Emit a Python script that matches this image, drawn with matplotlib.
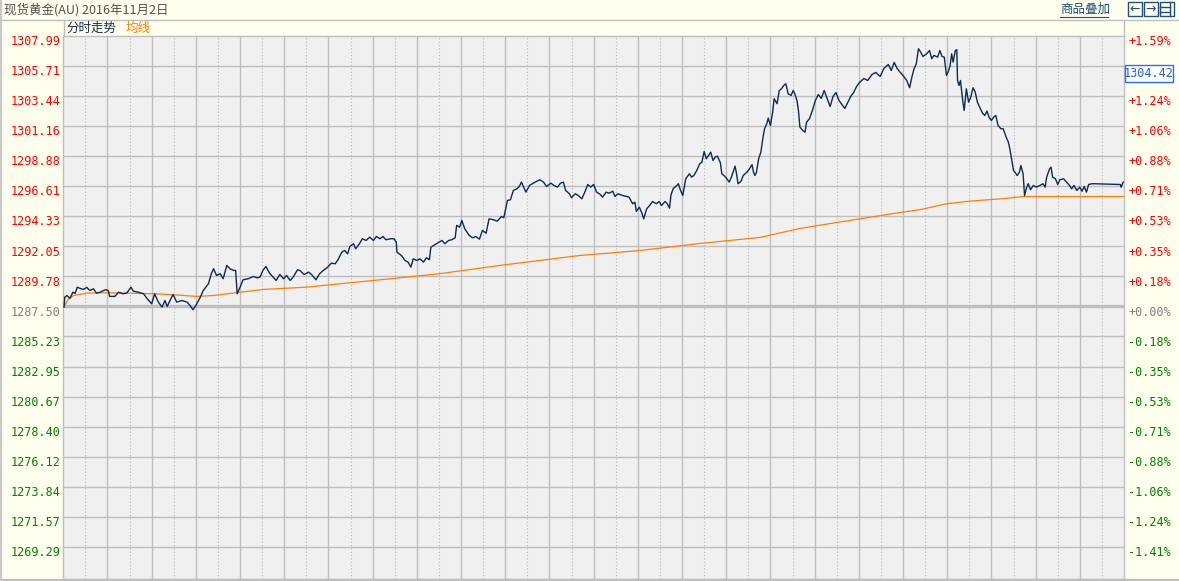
import matplotlib.pyplot as plt
from matplotlib.lines import Line2D
from matplotlib.patches import Rectangle
from matplotlib.transforms import ScaledTranslation

W, H = 1179, 581
dpi = 100

# minutes since session open (24h session) and price
minutes = [
    1, 2, 5, 9, 13, 16, 19, 23, 27, 32, 36, 41, 45, 50, 57, 61, 63, 70, 75, 81,
    86, 92, 95, 102, 109, 114, 120, 124, 129, 134, 138, 141, 145, 149, 154, 161, 168, 172, 176, 180,
    186, 190, 197, 201, 204, 208, 213, 217, 222, 226, 231, 234, 236, 240, 244, 251, 258, 263,
    267, 271, 275, 280, 285, 289, 294, 299, 303, 308, 312, 318, 321, 327, 333, 337, 343, 348, 353, 358,
    364, 369, 373, 378, 382, 386, 389, 394, 397, 402, 406, 411, 416, 421, 425, 430, 434, 438, 444, 449,
    452, 453, 459, 464, 468, 472, 475, 480, 484, 489, 493, 497, 499, 505, 510,
    514, 518, 523, 527, 532, 534, 538, 541, 545, 551, 556, 560, 565, 569, 574, 578, 584, 589, 595, 598,
    603, 607, 611, 616, 619, 622, 625, 628, 633, 638, 643, 647, 652, 656, 662, 666, 671, 675, 679, 682,
    687, 690, 695, 699, 704, 708, 712, 716, 720, 724, 729, 732, 737, 741, 746, 749, 753, 759, 765, 768,
    773, 776, 778, 782, 785, 788, 792, 796, 800, 805, 809, 812, 817, 820, 823, 825, 828, 833, 835, 838,
    841, 843, 845, 850, 853, 856, 860, 864, 867, 870, 873, 876, 879, 882, 885, 888, 892, 894, 897, 901,
    904, 907, 912, 914, 916, 920, 923, 928, 931, 935, 937, 939, 941, 944, 947, 950, 952, 955, 957, 960,
    963, 965, 969, 972, 975, 978, 981, 984, 988, 991, 993, 996, 998, 1000, 1004, 1007, 1009, 1013,
    1017, 1021, 1025, 1029, 1033, 1037, 1041, 1045, 1049, 1053, 1057, 1061, 1065, 1069, 1073, 1077,
    1081, 1087, 1092, 1098, 1103, 1109, 1114, 1120, 1124, 1128, 1132,
    1136, 1140, 1145, 1149, 1152, 1155, 1158, 1161, 1164, 1167, 1172, 1176, 1179, 1182, 1187, 1190,
    1193, 1196, 1199, 1202, 1204, 1206, 1208, 1211, 1213, 1214, 1216, 1218, 1221, 1223, 1226, 1229,
    1232, 1235, 1238, 1241, 1244, 1248, 1251, 1254, 1257, 1260, 1263, 1266, 1269, 1273, 1276, 1280,
    1283, 1285, 1288, 1290, 1292, 1295, 1298, 1300, 1303, 1305, 1308, 1310, 1313, 1317, 1321, 1326,
    1330, 1333, 1335, 1339, 1341, 1343, 1347, 1350, 1353, 1358, 1362, 1366, 1369, 1372, 1376, 1380,
    1383, 1386, 1389, 1392, 1397, 1435, 1436, 1439,
]
prices = [
    1287.45, 1288.20, 1288.33, 1288.11, 1288.58, 1288.48, 1288.96, 1288.86, 1288.79, 1288.94,
    1288.71, 1288.84, 1288.51, 1288.58, 1288.77, 1288.71, 1288.26, 1288.26, 1288.58, 1288.46,
    1288.51, 1288.96, 1288.66, 1288.58, 1288.46, 1288.08, 1287.70, 1288.46, 1287.83, 1287.45,
    1287.95, 1287.50, 1287.95, 1288.41, 1287.83, 1287.95, 1287.83, 1287.58, 1287.25, 1287.58,
    1288.20, 1288.71, 1289.22, 1289.98, 1290.36, 1289.85, 1289.98, 1289.60, 1290.61, 1290.36,
    1290.23, 1290.23, 1288.46, 1288.96, 1289.52, 1289.60, 1289.77, 1289.67,
    1289.72, 1290.23, 1290.53, 1290.02, 1289.72, 1289.47, 1289.92, 1289.60, 1289.85, 1289.47,
    1289.72, 1290.28, 1290.23, 1289.92, 1290.10, 1289.92, 1289.52, 1289.98, 1290.23, 1290.43,
    1290.78, 1290.73, 1291.04, 1291.61, 1291.74, 1291.49, 1292.05, 1292.25, 1291.87, 1292.25,
    1292.63, 1292.50, 1292.75, 1292.50, 1292.80, 1292.63, 1292.80, 1292.55, 1292.63, 1292.63,
    1292.37, 1291.61, 1291.36, 1290.98, 1290.86, 1290.48, 1291.11, 1290.98, 1291.11, 1290.86,
    1291.19, 1291.04, 1291.99, 1292.20, 1292.37,
    1292.50, 1292.25, 1292.50, 1292.55, 1292.70, 1293.64, 1293.51, 1294.02, 1293.39, 1292.88,
    1292.70, 1292.80, 1292.60, 1293.26, 1293.05, 1294.14, 1294.07, 1293.96, 1294.32, 1294.22,
    1295.53, 1295.58, 1296.29, 1296.42, 1296.59, 1296.92, 1296.54, 1296.16, 1296.67, 1296.84,
    1296.99, 1297.10, 1296.92, 1296.59, 1296.84, 1296.67, 1296.54, 1296.84, 1296.92, 1296.29,
    1296.04, 1295.74, 1296.04, 1295.91, 1295.66, 1296.16, 1296.74, 1296.54, 1296.74, 1296.16,
    1295.99, 1295.78, 1296.16, 1296.08, 1296.23, 1295.83, 1296.04, 1295.91, 1295.83, 1295.78,
    1295.28, 1295.40, 1294.70, 1295.02, 1294.64, 1294.14, 1294.90, 1295.15, 1295.45, 1295.28,
    1295.45, 1295.15, 1295.45, 1295.28, 1294.95, 1295.96, 1296.42, 1296.67, 1296.80, 1296.29,
    1295.91, 1296.54, 1297.17, 1297.55, 1297.30, 1297.42, 1297.80, 1298.31, 1298.43, 1299.24,
    1298.69, 1298.94, 1299.19, 1298.56, 1298.81, 1298.89, 1298.39, 1297.55, 1297.42, 1297.17,
    1296.92, 1297.30, 1298.13, 1297.55, 1296.80, 1296.97, 1297.42, 1297.67, 1297.88, 1298.24,
    1297.67, 1297.42, 1297.67, 1298.69, 1299.19, 1300.33, 1300.96, 1301.34, 1301.77, 1301.21,
    1302.22, 1303.24, 1302.86, 1303.86, 1303.99, 1304.24, 1304.37, 1303.61, 1303.49, 1303.86,
    1303.61, 1303.11, 1302.35, 1301.08, 1300.83, 1300.70, 1301.46, 1301.72,
    1302.35, 1303.11, 1303.56, 1303.26, 1303.86, 1303.26, 1302.65, 1303.41, 1303.71, 1303.11,
    1302.80, 1302.50, 1302.95, 1303.41, 1303.71, 1304.17, 1304.47, 1304.77, 1304.62, 1305.08,
    1305.23, 1304.92, 1305.53, 1305.83, 1305.38, 1305.99, 1305.53,
    1305.25, 1305.00, 1304.62, 1304.07, 1304.87, 1305.51, 1305.89, 1307.02, 1306.77, 1306.44,
    1306.64, 1306.89, 1306.27, 1306.52, 1306.39, 1306.89, 1306.44, 1306.39, 1305.00, 1305.38,
    1305.76, 1306.64, 1306.01, 1306.89, 1306.95, 1304.62, 1304.24, 1304.62, 1303.11, 1302.35,
    1303.99, 1302.98, 1303.36, 1304.07, 1303.74, 1302.98, 1302.60, 1302.14, 1301.97, 1302.30,
    1301.80, 1301.59, 1301.84, 1301.97, 1301.21, 1300.96, 1300.96, 1300.33, 1299.95, 1299.45,
    1298.43, 1297.80, 1297.67, 1297.42, 1297.67, 1298.18, 1297.55, 1295.91, 1296.54, 1296.80,
    1296.34, 1296.67, 1296.54, 1296.67, 1296.80, 1296.54, 1297.30, 1297.93, 1298.05, 1297.30,
    1297.17, 1296.74, 1297.10, 1297.17, 1296.92, 1296.67, 1296.42, 1296.67, 1296.29, 1296.54,
    1296.23, 1296.59, 1296.16, 1296.74, 1296.80, 1296.74, 1296.54, 1296.92,
]

# average price line (均线)
avg_minutes = [1, 2, 7, 14, 32, 63, 122, 149, 181, 204, 240, 272, 330, 376, 421, 466, 511,
               593, 701, 783, 864, 946, 1000, 1068, 1136, 1163, 1199, 1231, 1274, 1303, 1440]
avg_prices = [1287.50, 1287.58, 1288.08, 1288.33, 1288.51, 1288.54, 1288.46, 1288.39, 1288.26,
              1288.33, 1288.58, 1288.79, 1288.96, 1289.22, 1289.47, 1289.72, 1289.98, 1290.61,
              1291.36, 1291.74, 1292.27, 1292.73, 1293.41, 1294.02, 1294.62, 1294.83, 1295.28,
              1295.48, 1295.66, 1295.83, 1295.83]

price_labels = ['1307.99', '1305.71', '1303.44', '1301.16', '1298.88', '1296.61', '1294.33',
                '1292.05', '1289.78', '1287.50', '1285.23', '1282.95', '1280.67', '1278.40',
                '1276.12', '1273.84', '1271.57', '1269.29']
pct_labels = ['+1.59%', '+1.41%', '+1.24%', '+1.06%', '+0.88%', '+0.71%', '+0.53%', '+0.35%',
              '+0.18%', '+0.00%', '-0.18%', '-0.35%', '-0.53%', '-0.71%', '-0.88%', '-1.06%',
              '-1.24%', '-1.41%']
base_price = 1287.50
price_step = (1307.99 - base_price) / 9
price_ticks = [base_price + (9 - i) * price_step for i in range(len(price_labels))]
last_price = '1304.42'

cjk = ['Noto Sans CJK SC', 'DejaVu Sans']
mono = 'DejaVu Sans Mono'
grid_c = '#BEBEBE'
bg = '#FFFFEE'


def fx(x):
    return x / W


def fy(y):
    return 1 - y / H


fig = plt.figure(figsize=(W / dpi, H / dpi), dpi=dpi, facecolor=bg)
ax = fig.add_axes([fx(63.3), fy(579), (1124 - 63.3) / W, (579 - 36) / H])
ax.set_facecolor('#F0F0F0')
ax.set_xlim(0, 1440)
ax.set_ylim(base_price - 9.07 * price_step, price_ticks[0])

for t in range(60, 1440, 60):
    ax.axvline(t, color=grid_c, lw=1.0, zorder=1)
for t in range(30, 1440, 60):
    ax.axvline(t, color='#B4B4B4', lw=0.8, ls=(0, (1, 2)), zorder=1)
for p in price_ticks[1:]:
    if abs(p - base_price) > 1e-6:
        ax.axhline(p, color=grid_c, lw=1.0, zorder=1)
ax.axhline(base_price, color=grid_c, lw=2.4, zorder=1)

ax.plot(avg_minutes, avg_prices, color='#FF8000', lw=0.9, zorder=3)
ax.plot(minutes, prices, color='#0B2A55', lw=1.0, zorder=4)

for s in ax.spines.values():
    s.set_color(grid_c)
    s.set_linewidth(1.0)
ax.set_xticks([])


def label_color(i):
    if i < 9:
        return '#FF0000'
    if i == 9:
        return '#808080'
    return '#008000'


shift = ScaledTranslation(0, -3 / 72, fig.dpi_scale_trans)
ax.set_yticks(price_ticks)
ax.set_yticklabels(price_labels, fontfamily=mono, fontsize=8.5)
ax.tick_params(axis='y', length=0, pad=2)
for i, lab in enumerate(ax.get_yticklabels()):
    lab.set_color(label_color(i))
    lab.set_transform(lab.get_transform() + shift)

ax2 = ax.twinx()
ax2.set_ylim(ax.get_ylim())
ax2.set_yticks(price_ticks)
ax2.set_yticklabels(pct_labels, fontfamily=mono, fontsize=8.5)
ax2.tick_params(axis='y', length=0, pad=3)
for s in ax2.spines.values():
    s.set_visible(False)
for i, lab in enumerate(ax2.get_yticklabels()):
    lab.set_color(label_color(i))
    lab.set_transform(lab.get_transform() + shift)


def hline(x0, x1, y, c=grid_c, lw=1.0):
    fig.add_artist(Line2D([fx(x0), fx(x1)], [fy(y), fy(y)], color=c, lw=lw))


def vline(x, y0, y1, c=grid_c, lw=1.0):
    fig.add_artist(Line2D([fx(x), fx(x)], [fy(y0), fy(y1)], color=c, lw=lw))


# frame / header
hline(0, W, 19.5)
hline(0, W, 580, lw=1.6)
vline(1, 0, H, c='#C8C8C8', lw=1.6)
vline(63.5, 19.5, 36)
vline(1124, 19.5, 36)

fig.text(fx(4), fy(10), '现货黄金(AU) 2016年11月2日', family=cjk, fontsize=9,
         color='#505050', va='center', ha='left')
fig.text(fx(66), fy(28), '分时走势', family=cjk, fontsize=9, color='#1A2E4C',
         va='center', ha='left')
fig.text(fx(126), fy(28), '均线', family=cjk, fontsize=9, color='#FF8000',
         va='center', ha='left')
fig.text(fx(1060), fy(9), '商品叠加', family=cjk, fontsize=9, color='#1F4F7A',
         va='center', ha='left')
hline(1060, 1108, 16.5, c='#1F4F7A', lw=0.8)

# small navigation buttons
for x0, sym in [(1128, '←'), (1144, '→'), (1160, '')]:
    fig.add_artist(Rectangle((fx(x0), fy(16)), 14 / W, 14 / H, transform=fig.transFigure,
                             facecolor=bg, edgecolor='#1F4F7A', lw=1.0))
    if sym:
        fig.text(fx(x0 + 7), fy(9), sym, fontsize=9, color='#1F4F7A', ha='center',
                 va='center', family='DejaVu Sans')
vline(1170, 2, 16, c='#1F4F7A', lw=1.0)
hline(1160, 1170, 6.5, c='#1F4F7A', lw=1.0)
hline(1160, 1170, 11.5, c='#1F4F7A', lw=1.0)

# current price box
fig.add_artist(Rectangle((fx(1124.5), fy(82)), 48.5 / W, 17 / H, transform=fig.transFigure,
                         facecolor='white', edgecolor='#2A6BFF', lw=1.0, zorder=5))
fig.text(fx(1148.7), fy(73.5), last_price, fontfamily=mono, fontsize=8.5, color='#2A5FD0',
         ha='center', va='center', zorder=6)

fig.savefig('out.png', dpi=dpi, facecolor=fig.get_facecolor())
